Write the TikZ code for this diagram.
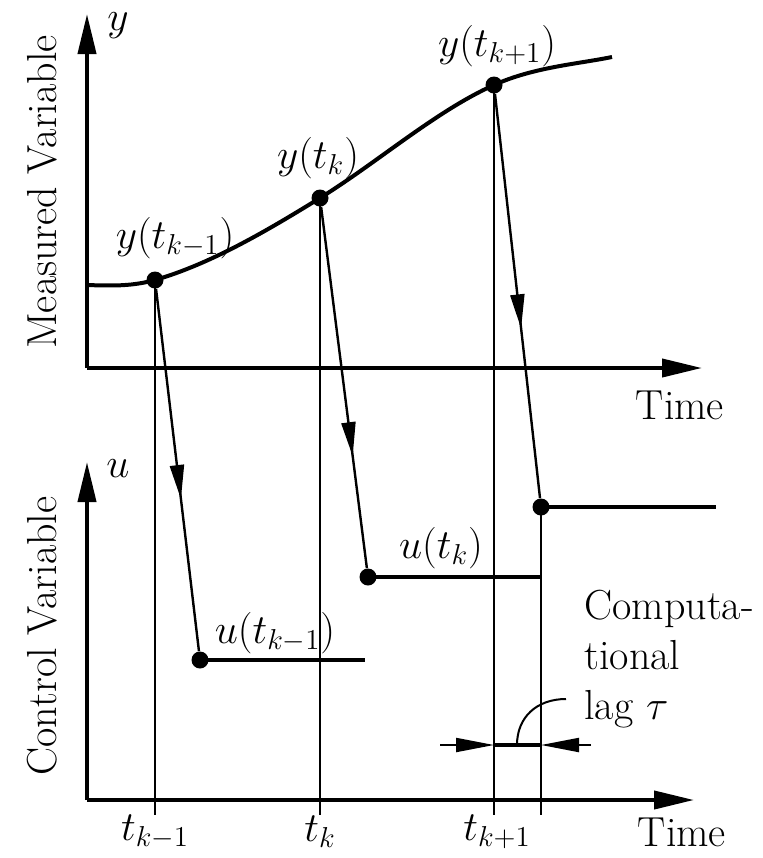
\documentclass[tikz,border=0pt]{standalone}
\usepackage{amsmath}
\usetikzlibrary{arrows.meta,decorations.markings,positioning}
\tikzset{
  axis/.style={line width=2pt,-{Triangle[length=20pt,width=9pt]}},
  tline/.style={line width=1pt},
  hold/.style={line width=2pt},
  sampdot/.style={circle,fill=black,inner sep=0pt,minimum size=8.5pt},
  flow/.style={line width=1.2pt,postaction={decorate},
               decoration={markings,mark=at position #1 with
                 {\arrow{Triangle[length=17pt,width=7pt]}}}},
  dimarrow/.style={line width=1pt,-{Triangle[length=19pt,width=7pt]}},
  lbl/.style={inner sep=0pt},
}

\begin{document}
\begin{tikzpicture}[x=0.5pt,y=-0.5pt,font=\fontsize{21}{25}\selectfont]
  \useasboundingbox (0,0) rectangle (762,858);
  % axes
  \coordinate (o1) at (87,368);
  \coordinate (o2) at (87,800);
  \coordinate (ytop) at (87,14);
  \coordinate (utop) at (87,462);
  \coordinate (xend1) at (702,368);
  \coordinate (xend2) at (694,800);
  \draw[axis] (o1) -- (ytop);
  \draw[axis] (o1) -- (xend1);
  \draw[axis] (o2) -- (utop);
  \draw[axis] (o2) -- (xend2);
  \node[lbl] (ylab) at (118,26) {$y$};
  \node[lbl] (ulab) at (118,469) {$u$};
  \node[lbl] (time1) at (680,405) {Time};
  \node[lbl] (time2) at (682,832) {Time};
  \node[lbl,rotate=90] (mvar) at (42,192) {Measured Variable};
  \node[lbl,rotate=90] (cvar) at (42,636) {Control Variable};
  % samples and held outputs
  \node[sampdot] (y1) at (155,280) {};
  \node[sampdot] (y2) at (320,198) {};
  \node[sampdot] (y3) at (494,85) {};
  \node[sampdot] (u1) at (200,660) {};
  \node[sampdot] (u2) at (368,577) {};
  \node[sampdot] (u3) at (541,507) {};
  \coordinate (h1) at (365,660);
  \coordinate (h2) at (540,577);
  \coordinate (h3) at (716,507);
  \coordinate (b1) at (155,815);
  \coordinate (b2) at (320,815);
  \coordinate (b3) at (494,815);
  \coordinate (b4) at (541,815);
  \coordinate (c0) at (87,285);
  \coordinate (c4) at (612,57);
  \foreach \i in {1,2,3}{\draw[tline] (y\i.center) -- (b\i);}
  \draw[tline] (u3.center) -- (b4);
  \draw[hold] (c0) .. controls (115,286) and (133,286) .. (y1.center)
    .. controls (210,264) and (265,232) .. (y2.center)
    .. controls (378,162) and (436,111) .. (y3.center)
    .. controls (534,67) and (578,64) .. (c4);
  \draw[flow=0.58] (y1) -- (u1);
  \draw[flow=0.69] (y2) -- (u2);
  \draw[flow=0.58] (y3) -- (u3);
  \draw[hold] (u1.center) -- (h1);
  \draw[hold] (u2.center) -- (h2);
  \draw[hold] (u3.center) -- (h3);
  \node[lbl] (ly1) at (175,238) {$y(t_{k-1})$};
  \node[lbl] (ly2) at (318,158) {$y(t_{k})$};
  \node[lbl] (ly3) at (497,46) {$y(t_{k+1})$};
  \node[lbl] (lu1) at (275,633) {$u(t_{k-1})$};
  \node[lbl] (lu2) at (441,548) {$u(t_{k})$};
  \node[lbl] (t1) at (155,832) {$t_{k-1}$};
  \node[lbl] (t2) at (320,832) {$t_{k}$};
  \node[lbl] (t3) at (497,832) {$t_{k+1}$};
  % computational lag
  \coordinate (lagL) at (440,745);
  \coordinate (lagA) at (494,745);
  \coordinate (lagB) at (541,745);
  \coordinate (lagR) at (591,745);
  \coordinate (lagM) at (517,745);
  \coordinate (lagT) at (566,699);
  \draw[dimarrow] (lagL) -- (lagA);
  \draw[dimarrow] (lagR) -- (lagB);
  \draw[hold] (lagA) -- (lagB);
  \draw[tline] (lagM) .. controls (517,717) and (537,699) .. (lagT);
  \node[lbl,align=left,anchor=north west] (lag) at (584,590)
    {Computa-\\tional\\lag $\tau$};
\end{tikzpicture}
\end{document}
